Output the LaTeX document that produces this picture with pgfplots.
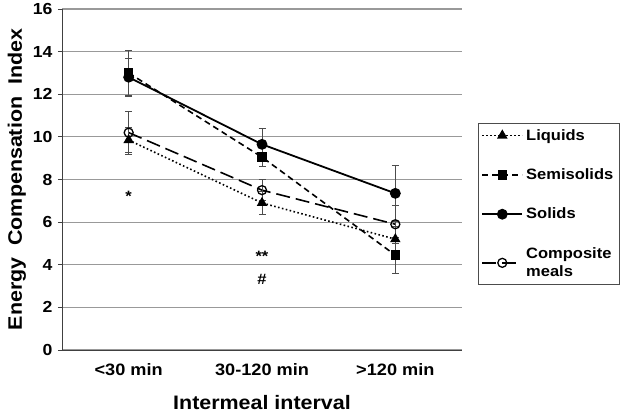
\documentclass[border=0pt]{standalone}
\usepackage{fontspec}
\setmainfont{Liberation Sans}[FakeStretch=1.1]
\usepackage{pgfplots}
\pgfplotsset{compat=1.18}
\begin{document}
\begin{tikzpicture}[x=1pt,y=1pt]
\useasboundingbox (0,0) rectangle (634,418);
\begin{axis}[
  at={(62pt,68pt)}, anchor=south west,
  scale only axis, width=400pt, height=341pt,
  xmin=-0.5, xmax=2.5, ymin=0, ymax=16,
  axis x line*=bottom, axis y line*=left,
  axis line style={-, line width=1pt, black!75},
  xtick={0,1,2}, xticklabels={{<30 min},{30-120 min},{>120 min}},
  major x tick style={draw=none},
  extra x ticks={-0.5,0.5,1.5,2.5}, extra x tick labels={},
  extra x tick style={grid=none, major tick length=5pt, tick style={draw=black!75, line width=0.8pt}},
  ytick={0,2,...,16},
  tick align=outside, major tick length=4pt,
  ytick style={draw=black!75, line width=0.8pt},
  ymajorgrids, y grid style={black!40, line width=1.2pt},
  /pgf/number format/assume math mode=true,
  yticklabel style={font=\fontsize{16}{18}\selectfont\bfseries, xshift=-2pt},
  xticklabel style={font=\fontsize{16.5}{18}\selectfont\bfseries, yshift=-6pt},
  xlabel={Intermeal interval}, ylabel={Energy\ \ Compensation\ \ Index},
  xlabel style={font=\fontsize{19.5}{21}\selectfont\bfseries, yshift=-4pt},
  ylabel style={font=\fontsize{19.5}{21}\selectfont\bfseries, yshift=0pt},
  clip=false,
  legend style={at={(1.04,0.666)}, anchor=north west, draw=black!70, line width=0.8pt,
    font=\fontsize{15}{18.5}\selectfont\bfseries, row sep=23pt, inner xsep=3pt, inner ysep=4pt,
    legend cell align=left, nodes={align=left, inner xsep=3pt}},
  legend image code/.code={\draw[#1] (0pt,0pt) -- (40pt,0pt); \draw[#1, solid] plot coordinates {(20pt,0pt)};},
  error bars/y dir=both, error bars/y explicit,
  error bars/error bar style={black!70, line width=0.8pt, solid},
  error bars/error mark options={rotate=90, mark size=3.5pt, black!70, line width=0.8pt},
]
\addplot[black, line width=1.6pt, dash pattern=on 1.6pt off 2.4pt, mark=triangle*, mark size=4.5pt, mark options={solid}]
  coordinates {(0,9.85) +- (0,0.6) (1,6.9) +- (0,0.55) (2,5.2) +- (0,0.6)};
\addlegendentry{Liquids}
\addplot[black, line width=1.6pt, dash pattern=on 6pt off 4pt, mark=square*, mark size=4pt, mark options={solid}]
  coordinates {(0,13.0) +- (0,1.05) (1,9.05) +- (0,0.45) (2,4.45) +- (0,0.85)};
\addlegendentry{Semisolids}
\addplot[black, line width=1.8pt, mark=*, mark size=4.5pt]
  coordinates {(0,12.8) +- (0,0.9) (1,9.65) +- (0,0.75) (2,7.35) +- (0,1.3)};
\addlegendentry{Solids}
\addplot[black, line width=1.6pt, dash pattern=on 14pt off 6pt, mark=o, mark size=4.5pt, mark options={solid, fill=white, line width=1.3pt}]
  coordinates {(0,10.2) +- (0,1.0) (1,7.5) +- (0,0.5) (2,5.9) +- (0,0.9)};
\addlegendentry{Composite\\meals}
\node[font=\fontsize{15}{16}\selectfont\bfseries] at (axis cs:0,7.2) {*};
\node[font=\fontsize{15}{16}\selectfont\bfseries] at (axis cs:1,4.4) {**};
\node[font=\fontsize{15}{16}\selectfont\bfseries] at (axis cs:1,3.3) {\#};
\end{axis}
\end{tikzpicture}
\end{document}
